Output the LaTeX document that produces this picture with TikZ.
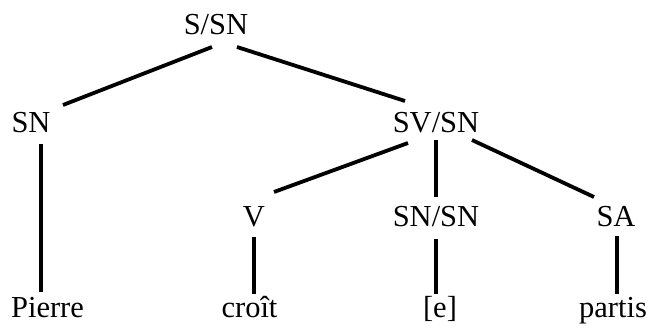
\documentclass[tikz,border=0pt]{standalone}
\usepackage{fontspec}
\setmainfont{Liberation Serif}
\begin{document}
\begin{tikzpicture}[x=1pt,y=-1pt,
  lbl/.style={anchor=base,inner sep=0pt,font=\fontsize{30.5}{36}\selectfont},
  edge/.style={line width=3.8pt}]
\useasboundingbox (0,0) rectangle (650,328);
\node[lbl] (ssn) at (216,35) {S/SN};
\node[lbl] (sn) at (31,133) {SN};
\node[lbl] (svsn) at (436,133) {SV/SN};
\node[lbl] (v) at (254,227) {V};
\node[lbl] (snsn) at (436,227) {SN/SN};
\node[lbl] (sa) at (616,227) {SA};
\node[lbl] (pierre) at (47.5,318) {Pierre};
\node[lbl] (croit) at (249.5,318) {croît};
\node[lbl] (e) at (440,318) {[e]};
\node[lbl] (partis) at (613,318) {partis};
\draw[edge] ([shift={(-4,12)}]ssn.base) -- ([shift={(32,-28)}]sn.base);
\draw[edge] ([shift={(21,12)}]ssn.base) -- ([shift={(-31,-32)}]svsn.base);
\draw[edge] ([shift={(10,11)}]sn.base) -- ([shift={(-6.5,-26)}]pierre.base);
\draw[edge] ([shift={(-28,10)}]svsn.base) -- ([shift={(20,-35)}]v.base);
\draw[edge] ([shift={(0,7)}]svsn.base) -- ([shift={(0,-30)}]snsn.base);
\draw[edge] ([shift={(36,7)}]svsn.base) -- ([shift={(-22,-30)}]sa.base);
\draw[edge] ([shift={(0,10)}]v.base) -- ([shift={(4.5,-24)}]croit.base);
\draw[edge] ([shift={(0,12)}]snsn.base) -- ([shift={(-4,-24)}]e.base);
\draw[edge] ([shift={(1,9)}]sa.base) -- ([shift={(4,-24)}]partis.base);
\end{tikzpicture}
\end{document}
